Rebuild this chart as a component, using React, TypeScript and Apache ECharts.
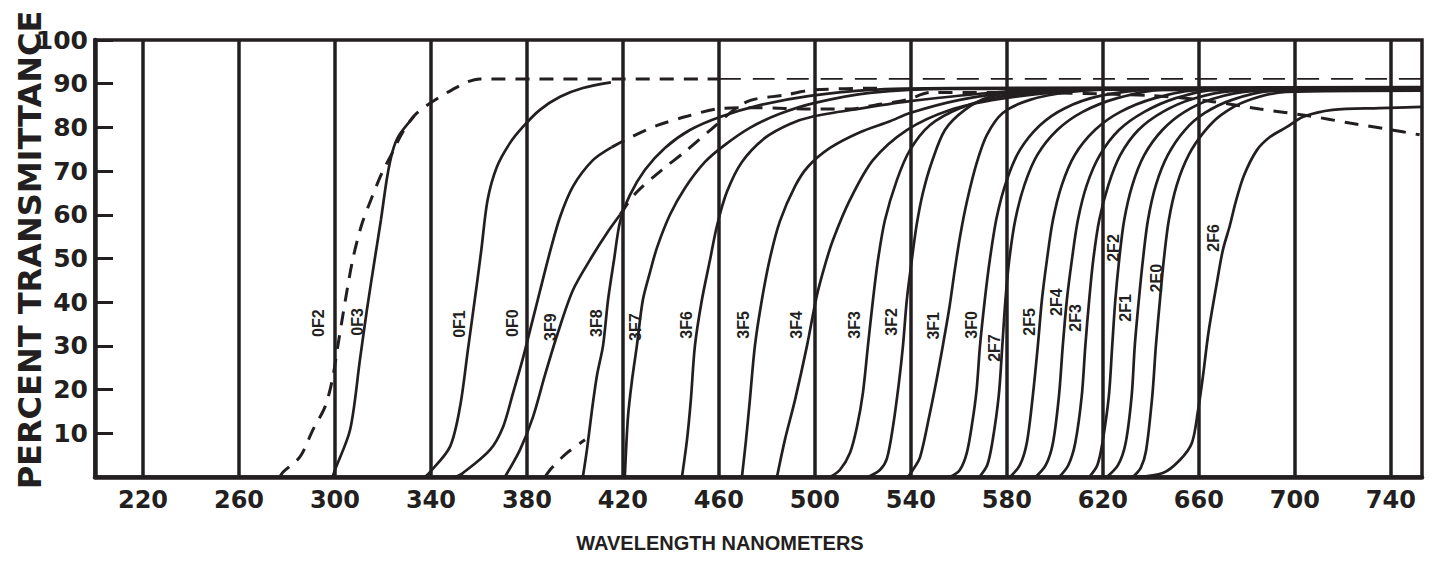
import { useEffect, useRef } from "react";
import * as echarts from "echarts";

type Pt = [number, number];

// Wavelength (nm) gridlines / tick labels
const xTicks = [220, 260, 300, 340, 380, 420, 460, 500, 540, 580, 620, 660, 700, 740];

// ---- curves: [wavelength nm, percent transmittance] ----
const f0F2: Pt[] = [[277,0],[278.3,1.1],[285.4,4.6],[290.8,10.8],[295.8,16],[298.8,22],[301.5,31],[304.5,41],[307.5,50],[311,57.5],[315.4,64],[319.6,69.6],[324.2,74.5],[328,78.7],[334.2,83.3],[348.8,88.6],[360.4,91.1],[460,91.1]];
const ref91: Pt[] = [[460,91.1],[753,91.1]];
const f0F3: Pt[] = [[299,0],[300,1.6],[306.3,10.8],[310.4,26.8],[313.3,38.2],[316.7,50.3],[319.2,59],[321.7,68.5],[324,74.5],[326.5,78],[333,82.5]];
const f0F1: Pt[] = [[337.5,0],[339.6,1.1],[347.9,6.9],[352.1,16],[355.4,29.1],[359.2,44.4],[361,52],[363.6,63.4],[367.5,71],[372.9,76.4],[378.3,80.1],[385.4,84],[393.8,87],[403.3,89],[415,90.3]];
const f0F0: Pt[] = [[350,0],[353.3,0.9],[364.6,6.2],[370,11.4],[374.2,19.2],[378,26.5],[381.5,34],[385.4,42.5],[389.6,51.5],[393.8,59.5],[399.2,66.5],[407.5,72.5],[415.4,75.5]];
const f0F0ext: Pt[] = [[415.4,75.5],[424.2,78],[434.6,80.5],[447.1,82.6],[460.4,84.3],[477,84.5],[498,84.2],[515,84.2],[525,85.1],[538.3,86.3],[548,88],[577,88],[640,87.3],[664.6,86],[685.4,84.2],[706.3,82.6],[722.9,81],[739.6,79.5],[752,78.3]];
const f3F9: Pt[] = [[370.8,0],[377.1,6.2],[382.5,13.7],[387.5,23.3],[392.9,33],[399.2,42.8],[407.5,50.8],[413.3,55.8],[418.8,60]];
const f3F9ext: Pt[] = [[418.8,60],[425.4,65],[436.3,70.3],[445.8,74.4],[455.4,78.9],[471.3,85.8],[487.5,87.4],[500,88.6],[530,89]];
const f3F8tail: Pt[] = [[387.5,0],[390.4,2.1],[396.7,5.5],[404.2,8.5]];
const f3F8: Pt[] = [[403.3,0],[405,6.2],[407.1,15.3],[409.2,23.3],[411.7,30],[413.8,40.5],[416.3,49.7],[418.8,58.4],[422.9,64.5],[429.2,70.3],[437.5,75.3],[447.9,79.4],[460.4,82.4],[477.1,85.1],[497.9,87.2],[522.9,88.6],[556.3,89],[753,89.2]];
const f3F7: Pt[] = [[420.8,0],[422.1,13.7],[423.8,22.2],[425.8,30],[428.3,40.5],[431.3,46.9],[434.2,52.5],[439.6,60],[445.8,66.1],[454.2,72.1],[462.5,76],[472.9,79.9],[485.4,83.1],[500,85.6],[522.9,87.9],[556.3,88.8],[753,88.8]];
const f3F6: Pt[] = [[444.6,0],[446.7,8.5],[448.3,17.6],[450,30],[452.9,40.5],[456.3,49.7],[459.2,57.5],[463.3,65.2],[469.6,72.1],[479.2,77.6],[489.6,80.8],[499.2,82.5],[518.8,84.3],[539.6,86],[577.1,88.1],[610.4,88.8],[753,88.6]];
const f3F5: Pt[] = [[469.6,0],[471.3,8.5],[472.9,17.6],[475,30],[477.9,40.5],[481.3,50.1],[485.4,58.5],[491.7,66.5],[497.1,71],[506.3,75.3],[518.8,78.9],[531.3,81.4],[539.6,83.3],[560.4,86.3],[581.3,87.9],[610.4,88.6],[753,88.9]];
const f3F4: Pt[] = [[484.2,0],[487.5,8.5],[491.7,17.6],[496.7,30],[500.8,41.5],[504.2,48.5],[507.5,54.2],[514.6,63.4],[524.2,72.5],[538.3,79.4],[556.3,84],[577.1,86.5],[602.1,88.1],[627.1,88.8],[753,88.5]];
const f3F3: Pt[] = [[506.3,0],[510.4,1.6],[514.6,5.5],[517.5,11.4],[520,19.2],[522.1,30],[524.2,40.5],[526.3,49.7],[529.2,58.8],[534.2,68],[539.6,74.8],[547.9,80.5],[560.4,84.4],[577.1,87],[602.1,88.3],[627.1,88.8],[753,88.7]];
const f3F2: Pt[] = [[522.1,0],[527.1,1.6],[530,4.2],[532.5,11.4],[535,21.5],[536.7,30],[538.3,40.5],[540.4,49.7],[542.4,57.7],[545,65],[548.8,72.2],[554.2,79.4],[562.5,84],[572.9,87],[589.6,88.3],[618.8,88.8],[753,89]];
const f3F1: Pt[] = [[538.8,0],[540.8,1.6],[543.8,4.5],[547.5,13.5],[550.8,22.5],[553.3,30],[556,38.6],[558.3,47.4],[560.6,55.4],[563.5,63.4],[567.5,72],[571.7,78.3],[578.3,83.3],[589.6,86.3],[606.3,88.1],[631.3,88.8],[753,88.6]];
const f3F0: Pt[] = [[556.3,0],[560.4,1.6],[563.3,5.5],[565.6,12.5],[567.4,20],[568.8,30],[570.8,40.5],[572.9,49.7],[575.8,59.5],[580,68],[585.4,74.8],[593.8,80.5],[604.2,84.4],[618.8,87.2],[639.6,88.6],[753,88.8]];
const f2F7: Pt[] = [[568.5,0],[571.8,2.7],[573.9,7.8],[576.6,18.5],[578.1,30],[579.4,40.5],[581,49.7],[583.5,58.8],[587.3,66.8],[592.7,73.7],[601,79.4],[611.4,83.5],[626,86.7],[644.8,88.6],[753,88.4]];
const f2F5: Pt[] = [[581.3,0],[585.4,2.7],[588.3,7.8],[590.8,18.5],[592.9,30],[594.6,40.5],[596.7,49.7],[599.2,58.8],[602.9,66.8],[608.3,73.7],[616.7,79.4],[627.1,83.5],[641.7,86.7],[660.4,88.6],[753,88.9]];
const f2F4: Pt[] = [[592,0],[596.2,2.7],[599.2,7.8],[601.7,18.5],[603.3,30],[605,40.5],[607.1,49.7],[609.6,58.8],[613.3,66.8],[618.8,73.7],[626.7,79.4],[637.1,83.5],[650.4,86.7],[667.1,88.6],[753,88.5]];
const f2F3: Pt[] = [[601.8,0],[605.6,2.7],[608.5,7.8],[611.2,18.5],[612.7,30],[614.3,40.5],[616,49.7],[618.5,58.8],[622.3,66.8],[627.3,73.7],[634.8,79.4],[644.8,83.5],[657.3,86.5],[673.9,88.3],[753,88.8]];
const f2F2: Pt[] = [[614.3,0],[617.7,2.7],[619.8,7.8],[622.5,18.5],[623.9,30],[625.2,40.5],[626.8,49.7],[628.9,58.8],[632.3,66.8],[637.3,73.7],[644.8,79.4],[653.9,83.5],[665.6,86.5],[682.3,88.3],[753,88.6]];
const f2F1: Pt[] = [[621.7,0],[626.3,2.7],[629.5,7.8],[632,18.5],[633.3,30],[635,40.5],[636.7,49.7],[638.8,58.8],[642.1,66.8],[647.1,73.7],[654.2,79.4],[662.5,83.3],[673.8,86.3],[689.6,88.3],[753,88.7]];
const f2E0: Pt[] = [[632.5,0],[635.8,2.1],[638,6],[640.6,18.5],[642.1,30],[643.8,40.5],[645.4,49.7],[647.5,58.8],[650.8,66.8],[655.8,73.7],[662.1,78.9],[669.2,82.8],[679.6,86],[696.3,88.1],[753,88.4]];
const f2F6: Pt[] = [[634.2,0],[645,0.9],[652.1,3.9],[657.1,7.8],[659.6,15],[661.7,23],[664,33],[667.5,44.4],[670,51.9],[672.9,57.5],[675.4,63],[678.8,69],[684.2,74.8],[689.6,77.8],[696.7,80.1],[703.3,82.4],[715.8,84],[735.4,84.4],[753,84.7]];

// ---- curve labels ----
const labelNames = ["0F2","0F3","0F1","0F0","3F9","3F8","3F7","3F6","3F5","3F4","3F3","3F2","3F1","3F0","2F7","2F5","2F4","2F3","2F2","2F1","2E0","2F6"];
const labelWl =    [293.3,309.2,351.7,373.8,390,408.8,425.4,446.3,470.4,492.5,516.7,532.1,549.6,565.4,575,589.6,600.8,608.8,624.6,629.6,642.5,666.3];
const labelPct =   [35.2,35.5,35,35.2,34.3,35.2,34.3,34.8,34.8,34.8,34.8,35.5,34.6,34.8,29.5,35.5,40,36.4,52.4,38.7,45.5,54.7];

const INK = "#231f20";

const solidCurves: [string, Pt[]][] = [
  ["0F3", f0F3], ["0F1", f0F1], ["0F0", f0F0], ["3F9", f3F9], ["3F8", f3F8],
  ["3F7", f3F7], ["3F6", f3F6], ["3F5", f3F5], ["3F4", f3F4], ["3F3", f3F3],
  ["3F2", f3F2], ["3F1", f3F1], ["3F0", f3F0], ["2F7", f2F7], ["2F5", f2F5],
  ["2F4", f2F4], ["2F3", f2F3], ["2F2", f2F2], ["2F1", f2F1], ["2E0", f2E0], ["2F6", f2F6],
];
const dashedCurves: [string, Pt[]][] = [
  ["0F2", f0F2], ["0F0 ext", f0F0ext], ["3F9 ext", f3F9ext], ["3F8 tail", f3F8tail],
];
const thinDashed: [string, Pt[]][] = [["0F2 plateau", ref91]];

export default function App() {
  const ref = useRef<HTMLDivElement>(null);
  useEffect(() => {
    if (!ref.current) return;
    const chart = echarts.init(ref.current, null, { renderer: "svg" });
    const lineBase = {
      type: "line" as const,
      showSymbol: false,
      smooth: 0.3,
      silent: true,
      z: 3,
    };
    const series: any[] = [
      {
        type: "line",
        data: [],
        silent: true,
        markLine: {
          silent: true,
          symbol: ["none", "none"],
          label: { show: false },
          lineStyle: { color: INK, width: 3.5, type: "solid" },
          data: xTicks.map((v) => ({ xAxis: v })),
        },
      },
      ...solidCurves.map(([name, data]) => ({
        ...lineBase,
        name,
        data,
        lineStyle: { color: INK, width: 2.7, type: "solid" },
      })),
      ...dashedCurves.map(([name, data]) => ({
        ...lineBase,
        name,
        data,
        lineStyle: { color: INK, width: 3, type: [14, 10] },
      })),
      ...thinDashed.map(([name, data]) => ({
        ...lineBase,
        name,
        data,
        lineStyle: { color: INK, width: 1.6, type: [22, 12] },
      })),
      {
        type: "scatter",
        name: "labels",
        silent: true,
        z: 6,
        symbolSize: 0.5,
        itemStyle: { color: INK, opacity: 0 },
        data: labelNames.map((n, i) => [labelWl[i], labelPct[i], n]),
        label: {
          show: true,
          position: "inside",
          rotate: 90,
          formatter: (p: any) => p.data[2],
          fontSize: 16,
          fontWeight: "bold",
          fontFamily: "Liberation Sans",
          color: INK,
          opacity: 1,
          textBorderWidth: 0,
        },
      },
    ];
    chart.setOption({
      animation: false,
      backgroundColor: "#ffffff",
      grid: {
        left: 95,
        right: 15,
        top: 40,
        bottom: 95,
        show: true,
        borderColor: INK,
        borderWidth: 3.5,
      },
      xAxis: {
        type: "value",
        min: 200,
        max: 753,
        axisLine: { show: true, lineStyle: { color: INK, width: 4.5 } },
        axisTick: { show: false },
        splitLine: { show: false },
        axisLabel: {
          customValues: xTicks,
          fontSize: 24,
          fontWeight: "bold",
          fontFamily: "DejaVu Sans",
          color: INK,
          margin: 11,
        },
      },
      yAxis: {
        type: "value",
        min: 0,
        max: 100,
        interval: 10,
        axisLine: { show: true, lineStyle: { color: INK, width: 4.5 } },
        axisTick: { show: true, inside: true, length: 18, lineStyle: { color: INK, width: 3 } },
        splitLine: { show: false },
        axisLabel: {
          formatter: (v: number) => (v === 0 ? "" : String(v)),
          fontSize: 25,
          fontWeight: "bold",
          fontFamily: "DejaVu Sans",
          color: INK,
          margin: 7,
        },
      },
      graphic: [
        {
          type: "text",
          x: 30,
          y: 250,
          rotation: Math.PI / 2,
          style: {
            text: "PERCENT TRANSMITTANCE",
            fill: INK,
            fontSize: 32,
            fontWeight: "bold",
            fontFamily: "DejaVu Sans",
            align: "center",
            verticalAlign: "middle",
          },
        },
        {
          type: "text",
          x: 720,
          y: 543,
          style: {
            text: "WAVELENGTH NANOMETERS",
            fill: INK,
            fontSize: 20,
            fontWeight: "bold",
            fontFamily: "Liberation Sans",
            align: "center",
            verticalAlign: "middle",
          },
        },
      ],
      series,
    });
    return () => chart.dispose();
  }, []);
  return (
    <div
      ref={ref}
      style={{ position: "absolute", left: 0, top: 0, width: 1437, height: 572 }}
    />
  );
}
